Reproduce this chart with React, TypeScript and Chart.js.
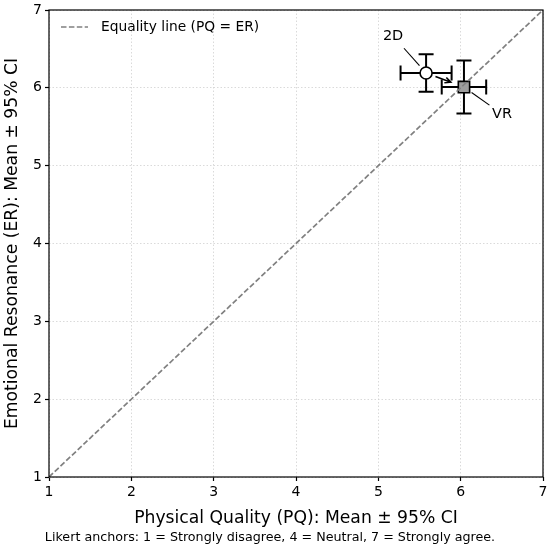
import React, { useEffect, useRef } from 'react';
import { Chart, registerables } from 'chart.js';

Chart.register(...registerables);

// Condition means and 95% CI half-widths (Likert 1-7)
const conditions = ['2D', 'VR'];
const pqMeans = [5.58, 6.04];
const pqCi = [0.31, 0.27];
const erMeans = [6.19, 6.01];
const erCi = [0.24, 0.34];

const axisTicks = [1, 2, 3, 4, 5, 6, 7];
const equalityLine = [1, 7];
const equalityLabel = 'Equality line (PQ = ER)';
const xTitle = 'Physical Quality (PQ): Mean ± 95% CI';
const yTitle = 'Emotional Resonance (ER): Mean ± 95% CI';
const caption = 'Likert anchors: 1 = Strongly disagree, 4 = Neutral, 7 = Strongly agree.';

const FONT = '"DejaVu Sans", sans-serif';

// label offsets in px from each marker
const labelOffsets = [
    { dx: -33, dy: -37 },
    { dx: 38, dy: 27 },
];

const overlayPlugin = {
    id: 'overlay',
    beforeDatasetsDraw(chart: any) {
        const { ctx, scales } = chart;
        const xs = scales.x;
        const ys = scales.y;
        const cap = 7.5;
        ctx.save();
        ctx.strokeStyle = '#000';
        ctx.lineWidth = 2;
        conditions.forEach((_, i) => {
            const cx = xs.getPixelForValue(pqMeans[i]);
            const cy = ys.getPixelForValue(erMeans[i]);
            const x0 = xs.getPixelForValue(pqMeans[i] - pqCi[i]);
            const x1 = xs.getPixelForValue(pqMeans[i] + pqCi[i]);
            const y0 = ys.getPixelForValue(erMeans[i] - erCi[i]);
            const y1 = ys.getPixelForValue(erMeans[i] + erCi[i]);
            ctx.beginPath();
            ctx.moveTo(x0, cy); ctx.lineTo(x1, cy);
            ctx.moveTo(x0, cy - cap); ctx.lineTo(x0, cy + cap);
            ctx.moveTo(x1, cy - cap); ctx.lineTo(x1, cy + cap);
            ctx.moveTo(cx, y0); ctx.lineTo(cx, y1);
            ctx.moveTo(cx - cap, y0); ctx.lineTo(cx + cap, y0);
            ctx.moveTo(cx - cap, y1); ctx.lineTo(cx + cap, y1);
            ctx.stroke();
        });
        ctx.restore();
    },
    afterDraw(chart: any) {
        const { ctx, scales, chartArea } = chart;
        const xs = scales.x;
        const ys = scales.y;
        ctx.save();

        // frame
        ctx.strokeStyle = '#000';
        ctx.lineWidth = 1.2;
        ctx.setLineDash([]);
        ctx.strokeRect(chartArea.left, chartArea.top, chartArea.right - chartArea.left, chartArea.bottom - chartArea.top);

        // legend
        const ly = chartArea.top + 17;
        ctx.strokeStyle = '#808080';
        ctx.lineWidth = 1.7;
        ctx.setLineDash([5.5, 2.4]);
        ctx.beginPath();
        ctx.moveTo(chartArea.left + 12, ly);
        ctx.lineTo(chartArea.left + 39, ly);
        ctx.stroke();
        ctx.setLineDash([]);
        ctx.fillStyle = '#000';
        ctx.font = `13.8px ${FONT}`;
        ctx.textAlign = 'left';
        ctx.textBaseline = 'middle';
        ctx.fillText(equalityLabel, chartArea.left + 52, ly);

        // labels with leader lines
        const pts = conditions.map((_, i) => ({
            x: xs.getPixelForValue(pqMeans[i]),
            y: ys.getPixelForValue(erMeans[i]),
        }));
        ctx.font = `14.5px ${FONT}`;
        ctx.textAlign = 'center';
        ctx.strokeStyle = '#000';
        ctx.lineWidth = 1.1;
        conditions.forEach((name, i) => {
            const p = pts[i];
            const o = labelOffsets[i];
            ctx.fillText(name, p.x + o.dx, p.y + o.dy);
            ctx.beginPath();
            ctx.moveTo(p.x + o.dx * 0.2, p.y + o.dy * 0.2);
            ctx.lineTo(p.x + o.dx * 0.67, p.y + o.dy * 0.67);
            ctx.stroke();
        });

        // arrow 2D -> VR
        const a = pts[0];
        const b = pts[1];
        const len = Math.hypot(b.x - a.x, b.y - a.y);
        const ux = (b.x - a.x) / len;
        const uy = (b.y - a.y) / len;
        const sx = a.x + ux * 10;
        const sy = a.y + uy * 10;
        const ex = b.x - ux * 14;
        const ey = b.y - uy * 14;
        ctx.lineWidth = 1.6;
        ctx.beginPath();
        ctx.moveTo(sx, sy);
        ctx.lineTo(ex, ey);
        const ang = Math.atan2(uy, ux);
        const h = 6.5;
        ctx.moveTo(ex - h * Math.cos(ang - 0.45), ey - h * Math.sin(ang - 0.45));
        ctx.lineTo(ex, ey);
        ctx.lineTo(ex - h * Math.cos(ang + 0.45), ey - h * Math.sin(ang + 0.45));
        ctx.stroke();

        // caption
        ctx.font = `12.7px ${FONT}`;
        ctx.textAlign = 'center';
        ctx.fillStyle = '#000';
        ctx.fillText(caption, 270, chart.height - 11);

        ctx.restore();
    },
};

export default function App() {
    const canvasRef = useRef<HTMLCanvasElement>(null);

    useEffect(() => {
        document.body.style.margin = '0';
        if (!canvasRef.current) return;

        const axisBase = (title: string, padding: any) => ({
            type: 'linear' as const,
            min: 1,
            max: 7,
            afterBuildTicks: (s: any) => {
                s.ticks = axisTicks.map(v => ({ value: v }));
            },
            ticks: {
                color: '#000',
                padding: 3,
                font: { family: FONT, size: 14 },
            },
            grid: {
                color: '#d0d0d0',
                lineWidth: 0.8,
                tickLength: 4,
                tickColor: '#000',
                tickWidth: 1.2,
                tickBorderDash: [],
            },
            border: { display: false, dash: [1.5, 2] },
            title: {
                display: true,
                text: title,
                color: '#000',
                padding,
                font: { family: FONT, size: 17.2, lineHeight: 1.2 },
            },
        });

        const chart = new Chart(canvasRef.current, {
            type: 'scatter',
            data: {
                datasets: [
                    {
                        label: equalityLabel,
                        data: equalityLine.map(v => ({ x: v, y: v })),
                        showLine: true,
                        borderColor: '#808080',
                        borderWidth: 1.7,
                        borderDash: [5.5, 2.4],
                        pointRadius: 0,
                    },
                    {
                        label: conditions[0],
                        data: [{ x: pqMeans[0], y: erMeans[0] }],
                        pointStyle: 'circle',
                        pointRadius: 6,
                        backgroundColor: '#ffffff',
                        borderColor: '#000',
                        borderWidth: 1.6,
                    },
                    {
                        label: conditions[1],
                        data: [{ x: pqMeans[1], y: erMeans[1] }],
                        pointStyle: 'rect',
                        pointRadius: 8,
                        backgroundColor: '#9e9e9e',
                        borderColor: '#000',
                        borderWidth: 1.6,
                    },
                ],
            },
            options: {
                animation: false,
                responsive: true,
                maintainAspectRatio: false,
                layout: { autoPadding: false, padding: { top: 10, right: 7, left: 0, bottom: 20 } },
                plugins: {
                    legend: { display: false },
                    tooltip: { enabled: false },
                },
                scales: {
                    x: {
                        ...axisBase(xTitle, { top: 0, bottom: 0.5 }),
                        afterFit: (s: any) => {
                            s.height = 52;
                            s.paddingLeft = 0;
                            s.paddingRight = 0;
                        },
                    },
                    y: {
                        ...axisBase(yTitle, { top: 2, bottom: 0 }),
                        afterFit: (s: any) => {
                            s.width = 49;
                            s.paddingTop = 0;
                            s.paddingBottom = 0;
                        },
                    },
                },
            },
            plugins: [overlayPlugin],
        });

        return () => chart.destroy();
    }, []);

    return (
        <div style={{ width: 550, height: 549, position: 'relative', background: '#fff' }}>
            <canvas ref={canvasRef}></canvas>
        </div>
    );
}
